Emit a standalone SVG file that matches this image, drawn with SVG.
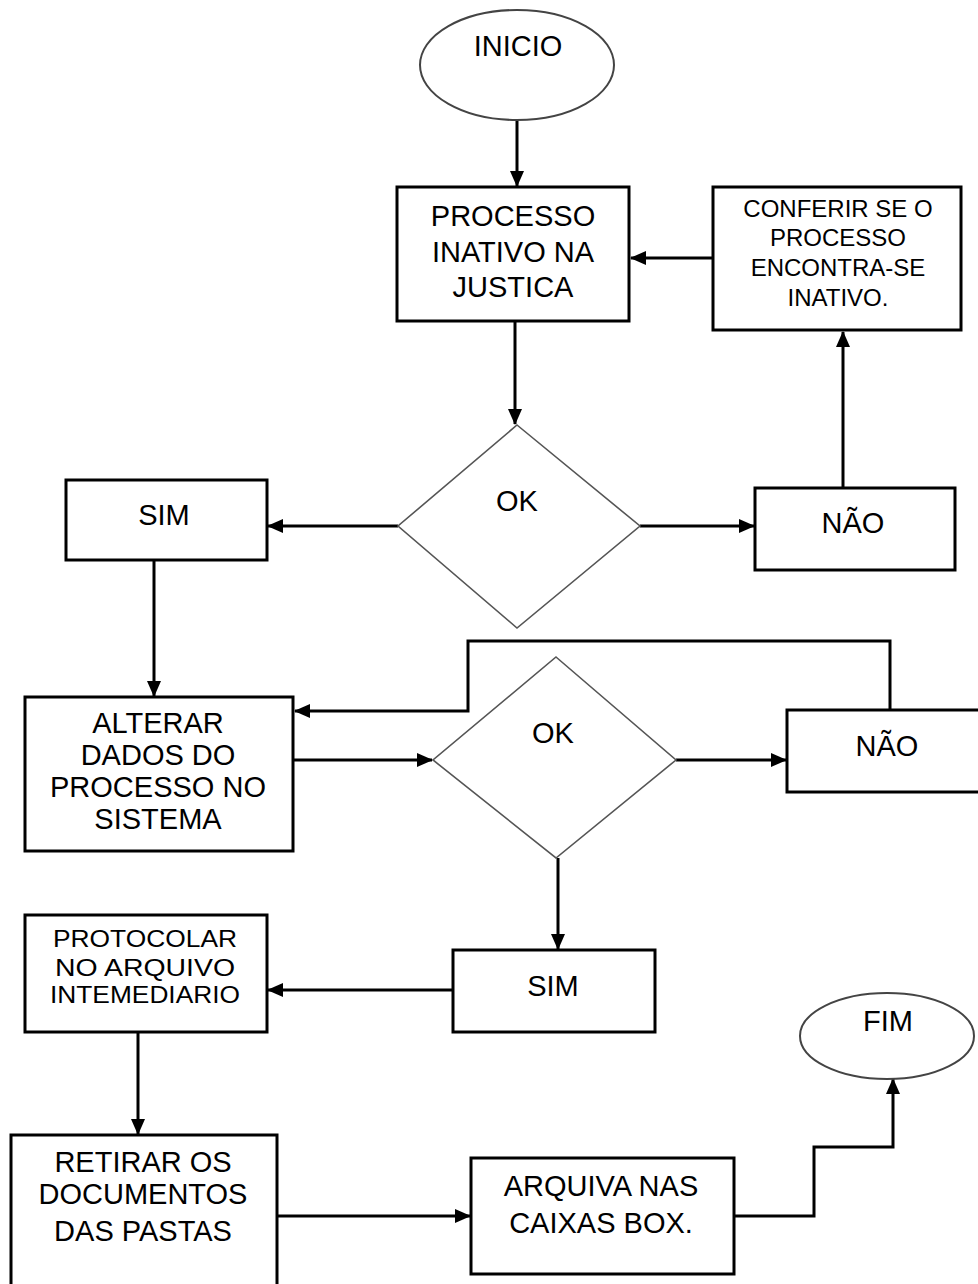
<svg xmlns="http://www.w3.org/2000/svg" width="978" height="1284" viewBox="0 0 978 1284">
  <style>
    .box { fill: #fff; stroke: #000; stroke-width: 3; }
    .dec { fill: #fff; stroke: #555; stroke-width: 1.6; }
    .term { fill: #fff; stroke: #444; stroke-width: 2; }
    .wire { fill: none; stroke: #000; stroke-width: 3; }
    text { font-family: "Liberation Sans", Arial, sans-serif; fill: #000; text-anchor: middle; }
    .t30 { font-size: 29px; }
    .t24 { font-size: 24px; }
    .t23 { font-size: 23px; }
  </style>
  <defs>
    <marker id="arrow" markerUnits="userSpaceOnUse" markerWidth="16" markerHeight="14" refX="15" refY="7" orient="auto">
      <path d="M0,0 L16,7 L0,14 Z" fill="#000"/>
    </marker>
  </defs>
  <rect width="978" height="1284" fill="#fff"/>

  <!-- connectors -->
  <g id="connectors">
    <line class="wire" x1="517" y1="120" x2="517" y2="186" marker-end="url(#arrow)"/>
    <line class="wire" x1="713" y1="258" x2="631" y2="258" marker-end="url(#arrow)"/>
    <line class="wire" x1="515" y1="321" x2="515" y2="424" marker-end="url(#arrow)"/>
    <line class="wire" x1="843" y1="488" x2="843" y2="332" marker-end="url(#arrow)"/>
    <line class="wire" x1="398" y1="526" x2="268" y2="526" marker-end="url(#arrow)"/>
    <line class="wire" x1="640" y1="526" x2="754" y2="526" marker-end="url(#arrow)"/>
    <line class="wire" x1="154" y1="560" x2="154" y2="696" marker-end="url(#arrow)"/>
    <line class="wire" x1="293" y1="760" x2="432" y2="760" marker-end="url(#arrow)"/>
    <line class="wire" x1="676" y1="760" x2="786" y2="760" marker-end="url(#arrow)"/>
    <polyline class="wire" points="890,710 890,641 468,641 468,711 295,711" marker-end="url(#arrow)"/>
    <line class="wire" x1="558" y1="858" x2="558" y2="949" marker-end="url(#arrow)"/>
    <line class="wire" x1="453" y1="990" x2="268" y2="990" marker-end="url(#arrow)"/>
    <line class="wire" x1="138" y1="1032" x2="138" y2="1134" marker-end="url(#arrow)"/>
    <line class="wire" x1="277" y1="1216" x2="470" y2="1216" marker-end="url(#arrow)"/>
    <polyline class="wire" points="734,1216 814,1216 814,1147 893,1147 893,1079" marker-end="url(#arrow)"/>
  </g>

  <g id="inicio">
    <ellipse class="term" cx="517" cy="65" rx="97" ry="55"/>
    <text class="t30" x="518" y="56">INICIO</text>
  </g>

  <g id="processo-inativo">
    <rect class="box" x="397" y="187" width="232" height="134"/>
    <text class="t30" x="513" y="226">PROCESSO</text>
    <text class="t30" x="513" y="262">INATIVO NA</text>
    <text class="t30" x="513" y="297">JUSTICA</text>
  </g>

  <g id="conferir">
    <rect class="box" x="713" y="187" width="248" height="143"/>
    <text class="t24" x="838" y="217">CONFERIR SE O</text>
    <text class="t24" x="838" y="246">PROCESSO</text>
    <text class="t24" x="838" y="276">ENCONTRA-SE</text>
    <text class="t24" x="838" y="306">INATIVO.</text>
  </g>

  <g id="ok-1">
    <polygon class="dec" points="517,425 640,526 517,628 398,526"/>
    <text class="t30" x="517" y="511">OK</text>
  </g>

  <g id="sim-1">
    <rect class="box" x="66" y="480" width="201" height="80"/>
    <text class="t30" x="164" y="525">SIM</text>
  </g>

  <g id="nao-1">
    <rect class="box" x="755" y="488" width="200" height="82"/>
    <text class="t30" x="853" y="533">NÃO</text>
  </g>

  <g id="alterar">
    <rect class="box" x="25" y="697" width="268" height="154"/>
    <text class="t30" x="158" y="733">ALTERAR</text>
    <text class="t30" x="158" y="765">DADOS DO</text>
    <text class="t30" x="158" y="797">PROCESSO NO</text>
    <text class="t30" x="158" y="829">SISTEMA</text>
  </g>

  <g id="ok-2">
    <polygon class="dec" points="556,657 676,760 556,858 433,760"/>
    <text class="t30" x="553" y="743">OK</text>
  </g>

  <g id="nao-2">
    <rect class="box" x="787" y="710" width="195" height="82"/>
    <text class="t30" x="887" y="756">NÃO</text>
  </g>

  <g id="sim-2">
    <rect class="box" x="453" y="950" width="202" height="82"/>
    <text class="t30" x="553" y="996">SIM</text>
  </g>

  <g id="protocolar">
    <rect class="box" x="25" y="915" width="242" height="117"/>
    <text class="t23" x="145" y="947" textLength="184" lengthAdjust="spacingAndGlyphs">PROTOCOLAR</text>
    <text class="t23" x="145" y="976" textLength="180" lengthAdjust="spacingAndGlyphs">NO ARQUIVO</text>
    <text class="t23" x="145" y="1003" textLength="190" lengthAdjust="spacingAndGlyphs">INTEMEDIARIO</text>
  </g>

  <g id="retirar">
    <rect class="box" x="11" y="1135" width="266" height="160"/>
    <text class="t30" x="143" y="1172">RETIRAR OS</text>
    <text class="t30" x="143" y="1204">DOCUMENTOS</text>
    <text class="t30" x="143" y="1241">DAS PASTAS</text>
  </g>

  <g id="arquiva">
    <rect class="box" x="471" y="1158" width="263" height="116"/>
    <text class="t30" x="601" y="1196">ARQUIVA NAS</text>
    <text class="t30" x="601" y="1233">CAIXAS BOX.</text>
  </g>

  <g id="fim">
    <ellipse class="term" cx="887" cy="1036" rx="87" ry="43"/>
    <text class="t30" x="888" y="1031">FIM</text>
  </g>
</svg>
